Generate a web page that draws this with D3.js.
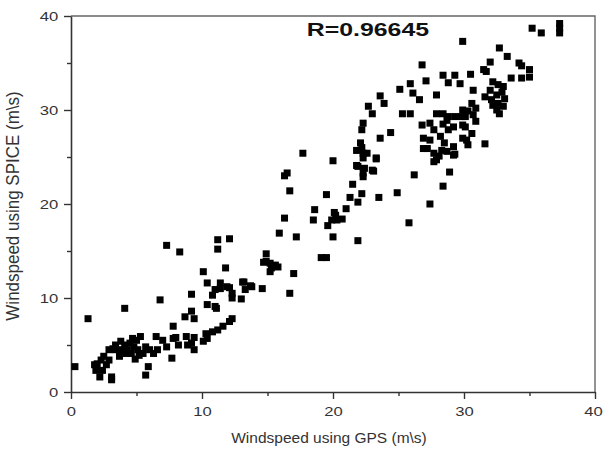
<!DOCTYPE html>
<html>
<head>
<meta charset="utf-8">
<script src="https://cdn.jsdelivr.net/npm/d3@7/dist/d3.min.js"></script>
<style>
  body { margin: 0; background: #fff; }
  text { font-family: Arial, "Liberation Sans", sans-serif; }
</style>
</head>
<body>
<div id="chart"></div>
<script>
// windspeed pairs (GPS on x, SPICE on y)
var gpsSpeed = [
  0.3, 1.3, 4.1, 6.8, 7.3, 8.3, 10.1, 11.8, 10.4, 9.2, 11.4, 11.0, 10.8, 12.1, 12.3, 13.0, 13.1, 13.7, 13.3, 14.6,
  10.4, 11.1, 9.2, 8.7, 9.4, 7.8, 12.3, 12.1, 11.6, 11.2, 10.8, 10.3, 10.4, 10.1, 9.4, 9.2, 9.4, 8.9, 8.2, 8.0,
  7.7, 7.0, 6.5, 6.6, 6.3, 6.0, 5.9, 5.7, 5.5, 5.2, 4.9, 4.6, 4.3, 4.1, 3.8, 3.4, 3.2, 2.9, 2.9, 2.5,
  2.3, 2.0, 1.8, 1.9, 2.2, 3.1, 3.1, 5.0, 4.7, 5.3, 5.7, 4.5, 4.8, 4.2, 3.7, 2.7, 2.4, 3.4, 3.9, 5.1,
  7.3, 7.8, 8.8, 11.4, 11.9, 12.3, 11.0, 13.8, 13.2,
  17.7, 20.0, 16.3, 16.5, 16.7, 19.5, 18.6, 18.5, 16.3, 15.9, 17.2, 20.1, 20.3, 20.7, 19.9, 19.6, 20.0, 21.9, 19.1, 19.5,
  14.9, 14.9, 15.2, 15.6, 15.8, 15.2, 15.3, 14.7, 17.0, 16.7, 11.2, 11.2, 12.1, 22.1, 22.3, 21.8, 23.3, 21.8, 22.3, 23.1,
  21.5, 22.2, 21.3, 21.9, 21.0, 23.5, 20.2,
  26.8, 28.4, 29.3, 28.8, 29.7, 27.1, 25.1, 25.9, 26.1, 26.6, 27.9, 23.6, 23.9, 22.7, 23.0, 25.3, 25.9, 22.3, 22.2, 24.4,
  23.6, 22.2, 22.6, 22.3, 21.9, 22.4, 22.3, 23.0, 23.3, 24.9, 25.8, 27.4, 28.4, 28.9, 26.2, 26.8, 27.4, 27.9, 28.4, 28.8,
  27.7, 26.9, 27.2, 27.4, 28.2, 28.3, 27.7, 28.7, 29.2, 28.5, 27.9, 29.9, 30.2, 29.8, 29.9, 27.7, 28.1, 29.3, 26.9,
  35.2, 35.9, 37.3, 37.3, 37.3, 29.9, 32.7, 33.3, 34.2, 34.4, 35.0, 35.0, 34.4, 33.6, 32.0, 31.5, 31.7, 30.5,
  32.2, 32.6, 33.0, 32.0, 32.9, 32.5, 31.6, 32.1, 33.1, 32.6, 32.2, 33.0, 32.5, 32.7, 30.7, 30.6, 30.9, 30.3, 30.1, 30.7,
  30.9, 30.1, 30.6, 29.9, 30.3, 31.6, 29.3, 28.7, 29.2, 28.4, 28.8, 29.2
];
var spiceSpeed = [
  2.7, 7.8, 8.9, 9.8, 15.6, 14.9, 12.8, 13.2, 11.6, 10.4, 11.6, 10.9, 10.3, 11.1, 10.0, 9.9, 11.7, 11.3, 10.9, 11.0,
  9.3, 8.9, 8.6, 8.0, 7.8, 7.0, 7.8, 7.5, 7.0, 6.6, 6.4, 6.2, 5.7, 5.4, 5.8, 5.2, 4.5, 5.0, 5.0, 5.8,
  3.6, 5.5, 5.9, 4.5, 4.1, 4.5, 2.7, 1.8, 4.1, 3.9, 3.5, 4.1, 4.5, 5.0, 5.4, 5.0, 4.6, 4.5, 3.4, 3.8,
  3.4, 3.0, 2.9, 2.3, 1.6, 1.6, 1.3, 5.5, 5.7, 5.9, 4.8, 5.2, 4.8, 4.1, 3.8, 2.9, 2.3, 4.5, 4.5, 4.5,
  4.8, 5.7, 5.9, 11.0, 11.2, 10.5, 9.1, 11.2, 11.7,
  25.4, 24.6, 23.0, 23.3, 21.4, 21.0, 19.4, 18.3, 18.5, 16.9, 16.5, 19.1, 18.3, 18.4, 18.3, 17.7, 16.5, 16.1, 14.3, 14.3,
  14.7, 13.9, 13.7, 13.5, 13.3, 12.8, 13.2, 13.8, 12.6, 10.5, 16.2, 15.2, 16.3, 26.5, 25.4, 25.7, 24.9, 24.1, 23.3, 23.5,
  22.1, 21.1, 20.7, 20.2, 19.5, 20.7, 18.8,
  34.8, 33.7, 33.7, 32.9, 32.8, 33.1, 32.2, 32.8, 31.8, 31.1, 31.6, 31.5, 30.7, 30.4, 29.6, 29.6, 29.6, 28.6, 27.9, 27.6,
  27.0, 26.0, 25.4, 24.9, 24.0, 23.8, 22.9, 23.6, 24.8, 21.2, 18.0, 20.0, 21.9, 23.4, 23.1, 28.4, 28.6, 29.6, 29.6, 29.3,
  27.9, 27.0, 25.9, 26.8, 27.2, 25.7, 25.4, 25.6, 25.2, 26.5, 24.7, 28.4, 26.8, 29.3, 30.0, 24.5, 25.1, 25.3, 25.9,
  38.7, 38.2, 39.2, 38.7, 38.2, 37.3, 36.6, 35.7, 35.0, 34.7, 34.3, 33.5, 33.4, 33.4, 35.1, 34.3, 34.1, 33.8,
  33.0, 32.7, 32.5, 32.1, 31.9, 31.6, 31.4, 31.1, 31.2, 30.7, 30.5, 30.4, 30.0, 29.6, 32.1, 30.7, 30.2, 29.9, 29.3, 29.5,
  28.8, 28.2, 27.5, 27.0, 26.3, 26.4, 29.3, 28.9, 28.2, 28.5, 27.9, 26.1
];
var xTicks = [0, 10, 20, 30, 40];
var yTicks = [0, 10, 20, 30, 40];
var minorTicks = [5, 15, 25, 35];
var xTitle = "Windspeed using GPS (m\\s)";
var yTitle = "Windspeed using SPICE (m\\s)";
var rLabel = "R=0.96645";

var data = gpsSpeed.map(function(d, i) { return {gps: d, spice: spiceSpeed[i]}; });

// set the dimensions and margins of the graph
var margin = {top: 16, right: 8, bottom: 58, left: 71},
    width = 603 - margin.left - margin.right,
    height = 450 - margin.top - margin.bottom,
    stretch = 1.28;   // the picture is wider than it is tall, text looks pulled sideways

var svg = d3.select("#chart")
  .append("svg")
    .attr("width", 603)
    .attr("height", 450)
  .append("g")
    .attr("transform", "translate(" + margin.left + "," + margin.top + ")");

var x = d3.scaleLinear().domain([0, 40]).range([0, width]);
var y = d3.scaleLinear().domain([0, 40]).range([height, 0]);

// frame on top and right
svg.append("path")
  .attr("d", "M0,0H" + width + "V" + height)
  .attr("fill", "none")
  .attr("stroke", "#666")
  .attr("stroke-width", 1.4);

// minor ticks
svg.append("g")
  .attr("transform", "translate(0," + height + ")")
  .call(d3.axisBottom(x).tickValues(minorTicks).tickSize(4).tickFormat(""))
  .call(function(g) { g.select(".domain").remove(); })
  .selectAll("line").attr("stroke", "#333").attr("stroke-width", 1.4);
svg.append("g")
  .call(d3.axisLeft(y).tickValues(minorTicks).tickSize(4).tickFormat(""))
  .call(function(g) { g.select(".domain").remove(); })
  .selectAll("line").attr("stroke", "#333").attr("stroke-width", 1.4);

// major axes
var xAxis = svg.append("g")
  .attr("transform", "translate(0," + height + ")")
  .call(d3.axisBottom(x).tickValues(xTicks).tickSize(7).tickSizeOuter(0).tickPadding(8));
var yAxis = svg.append("g")
  .call(d3.axisLeft(y).tickValues(yTicks).tickSize(7).tickSizeOuter(0).tickPadding(3));

[xAxis, yAxis].forEach(function(g) {
  g.select(".domain").attr("stroke", "#333").attr("stroke-width", 1.6);
  g.selectAll("line").attr("stroke", "#333").attr("stroke-width", 1.4);
  g.selectAll("text")
    .style("font-size", "13px")
    .attr("fill", "#333");
});
xAxis.selectAll("text").attr("transform", function(d) {
  return (d === 40 ? "translate(-2,0) " : "") + "scale(" + stretch + ",1)";
});
yAxis.selectAll("text").attr("transform", "scale(" + stretch + ",1)");

// squares
svg.append("g")
  .selectAll("rect")
  .data(data)
  .enter()
  .append("rect")
    .attr("x", function(d) { return x(d.gps) - 3.5; })
    .attr("y", function(d) { return y(d.spice) - 3.5; })
    .attr("width", 7)
    .attr("height", 7)
    .attr("fill", "#000");

// axis titles
svg.append("text")
  .attr("text-anchor", "middle")
  .attr("transform", "translate(" + (x(20) - 4) + "," + (height + 51) + ")")
  .style("font-size", "15.5px")
  .attr("fill", "#333")
  .text(xTitle);

svg.append("text")
  .attr("text-anchor", "middle")
  .attr("transform", "translate(-52," + (height / 2 + 2) + ") rotate(-90) scale(1,1.12)")
  .style("font-size", "17px")
  .attr("fill", "#333")
  .text(yTitle);

// correlation label
svg.append("text")
  .attr("transform", "translate(" + x(18) + ",20) scale(1.38,1)")
  .style("font-size", "18px")
  .style("font-weight", "bold")
  .attr("fill", "#111")
  .text(rLabel);
</script>
</body>
</html>
